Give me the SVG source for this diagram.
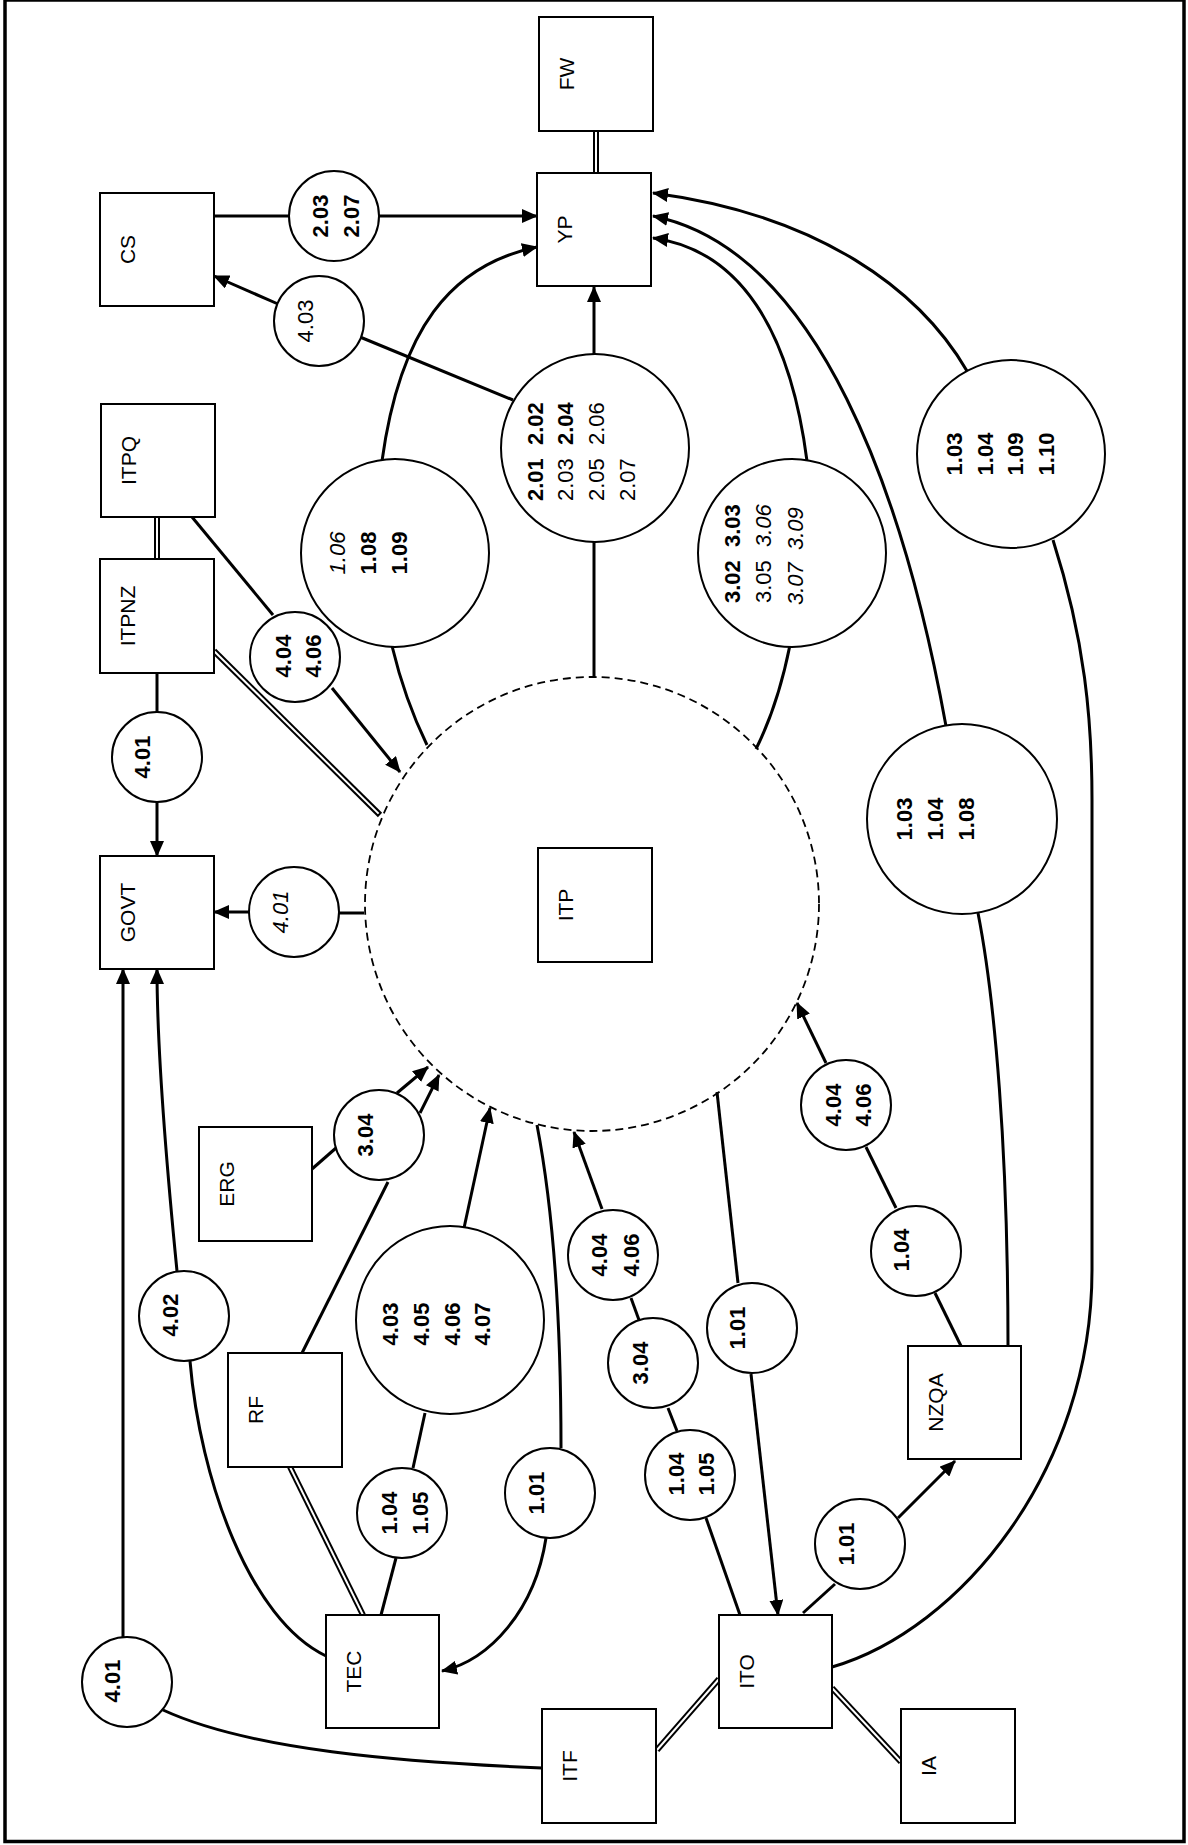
<svg xmlns="http://www.w3.org/2000/svg" width="1188" height="1845" viewBox="0 0 1188 1845">
<style>
.bx{fill:#fff;stroke:#000;stroke-width:2}
.cn{fill:#fff;stroke:#000;stroke-width:2}
.ln{fill:none;stroke:#000;stroke-width:3}
.ar{fill:none;stroke:#000;stroke-width:3;marker-end:url(#ah)}
.dbo{fill:none;stroke:#000;stroke-width:6}
.dbi{fill:none;stroke:#fff;stroke-width:2}
.dash{fill:none;stroke:#000;stroke-width:1.8;stroke-dasharray:8 5}
.t{font-family:"Liberation Sans",Arial,sans-serif;font-size:22px;fill:#000}
.lb{font-family:"Liberation Sans",Arial,sans-serif;font-size:21px;fill:#000;text-anchor:middle}
.b{font-weight:bold}
.i{font-style:italic}
.m{text-anchor:middle}
</style>
<defs>
<marker id="ah" markerUnits="userSpaceOnUse" markerWidth="16" markerHeight="14" refX="15" refY="7" orient="auto" viewBox="0 0 16 14"><path d="M0,0 L16,7 L0,14 Z" fill="#000"/></marker>
</defs>
<rect x="5" y="0" width="1179" height="1841.5" fill="#fff" stroke="#000" stroke-width="3.5"/>

<g id="connectors">
<path class="dbo" d="M596,131 L596,173"/><path class="dbi" d="M596,131 L596,173"/>
<path class="dbo" d="M157,517 L157,559"/><path class="dbi" d="M157,517 L157,559"/>
<path class="dbo" d="M214,651 L380,815"/><path class="dbi" d="M214,651 L378.6,813.6"/>
<path class="dbo" d="M290,1467 L363,1615"/><path class="dbi" d="M290,1467 L363,1615"/>
<path class="dbo" d="M657,1750 L719,1679"/><path class="dbi" d="M657,1750 L719,1679"/>
<path class="dbo" d="M832,1688 L901,1762"/><path class="dbi" d="M832,1688 L901,1762"/>

<path class="ln" d="M214,216 L290,216"/>
<path class="ar" d="M378,216 L537,216"/>
<path class="ln" d="M513,400 L360,337"/>
<path class="ar" d="M278,304 L214,276"/>
<path class="ar" d="M594,355 L594,287"/>
<path class="ln" d="M594,541 L594,677"/>
<path class="ar" d="M382,461 C400,330 450,265 537,247"/>
<path class="ln" d="M392,646 Q405,700 427,745"/>
<path class="ar" d="M807,461 C790,330 740,250 653,238"/>
<path class="ln" d="M790,645 Q778,705 756,749"/>
<path class="ar" d="M946,726 C905,500 820,250 653,216"/>
<path class="ar" d="M967,371 C920,290 820,215 653,193"/>
<path class="ln" d="M1053,540 C1085,640 1092,720 1092,800 L1092,1270 C1092,1470 960,1630 832,1667"/>
<path class="ln" d="M1008,1346 C1008,1150 995,1000 978,913"/>

<path class="ln" d="M192,517 L273,615"/>
<path class="ar" d="M332,688 L400,772"/>
<path class="ln" d="M157,673 L157,712"/>
<path class="ar" d="M157,802 L157,856"/>
<path class="ln" d="M339,913 L364,913"/>
<path class="ar" d="M249,912 L214,912"/>
<path class="ar" d="M123,1637 L123,969"/>
<path class="ar" d="M177,1271 C165,1150 157,1050 157,969"/>
<path class="ln" d="M190,1361 C200,1480 250,1620 326,1656"/>
<path class="ln" d="M542,1768 C400,1762 250,1750 163,1710"/>

<path class="ln" d="M312,1169 L336,1148"/>
<path class="ln" d="M302,1353 L388,1182"/>
<path class="ar" d="M397,1093 L428,1067"/>
<path class="ar" d="M420,1113 L439,1075"/>
<path class="ar" d="M464,1228 L490,1108"/>
<path class="ln" d="M425,1413 L413,1468"/>
<path class="ln" d="M396,1558 L381,1615"/>
<path class="ln" d="M537,1125 Q561,1250 561,1448"/>
<path class="ar" d="M546,1538 C535,1610 490,1660 442,1671"/>

<path class="ar" d="M602,1209 L574,1132"/>
<path class="ln" d="M631,1298 L639,1320"/>
<path class="ln" d="M668,1408 L677,1431"/>
<path class="ln" d="M706,1518 L740,1615"/>
<path class="ln" d="M717,1092 L738,1283"/>
<path class="ar" d="M751,1374 L778,1615"/>
<path class="ln" d="M803,1613 L835,1584"/>
<path class="ar" d="M898,1518 L955,1461"/>
<path class="ln" d="M961,1346 L935,1293"/>
<path class="ln" d="M896,1208 L866,1147"/>
<path class="ar" d="M826,1063 L797,1003"/>
</g>

<g id="ITP-boundary"><circle class="dash" cx="592" cy="904" r="227"/></g>

<g id="FW"><rect class="bx" x="539" y="17" width="114" height="114"/><text class="lb" transform="translate(574,74) rotate(-90)">FW</text></g>
<g id="YP"><rect class="bx" x="537" y="173" width="114" height="113"/><text class="lb" transform="translate(572,229.5) rotate(-90)">YP</text></g>
<g id="CS"><rect class="bx" x="100" y="193" width="114" height="113"/><text class="lb" transform="translate(135,249.5) rotate(-90)">CS</text></g>
<g id="ITPQ"><rect class="bx" x="101" y="404" width="114" height="113"/><text class="lb" transform="translate(136,460.5) rotate(-90)">ITPQ</text></g>
<g id="ITPNZ"><rect class="bx" x="100" y="559" width="114" height="114"/><text class="lb" transform="translate(135,616) rotate(-90)">ITPNZ</text></g>
<g id="GOVT"><rect class="bx" x="100" y="856" width="114" height="113"/><text class="lb" transform="translate(135,912.5) rotate(-90)">GOVT</text></g>
<g id="ITP"><rect class="bx" x="538" y="848" width="114" height="114"/><text class="lb" transform="translate(573,905) rotate(-90)">ITP</text></g>
<g id="ERG"><rect class="bx" x="199" y="1127" width="113" height="114"/><text class="lb" transform="translate(234,1184) rotate(-90)">ERG</text></g>
<g id="RF"><rect class="bx" x="228" y="1353" width="114" height="114"/><text class="lb" transform="translate(263,1410) rotate(-90)">RF</text></g>
<g id="TEC"><rect class="bx" x="326" y="1615" width="113" height="113"/><text class="lb" transform="translate(361,1671.5) rotate(-90)">TEC</text></g>
<g id="ITO"><rect class="bx" x="719" y="1615" width="113" height="113"/><text class="lb" transform="translate(754,1671.5) rotate(-90)">ITO</text></g>
<g id="ITF"><rect class="bx" x="542" y="1709" width="114" height="114"/><text class="lb" transform="translate(577,1766) rotate(-90)">ITF</text></g>
<g id="IA"><rect class="bx" x="901" y="1709" width="114" height="114"/><text class="lb" transform="translate(936,1766) rotate(-90)">IA</text></g>
<g id="NZQA"><rect class="bx" x="908" y="1346" width="113" height="113"/><text class="lb" transform="translate(943,1402.5) rotate(-90)">NZQA</text></g>

<g id="c-203-207"><circle class="cn" cx="334" cy="216" r="45"/><text class="t b m" transform="translate(328,216) rotate(-90)">2.03</text><text class="t b m" transform="translate(359,216) rotate(-90)">2.07</text></g>
<g id="c-403a"><circle class="cn" cx="319" cy="321" r="45"/><text class="t m" transform="translate(313,321) rotate(-90)">4.03</text></g>
<g id="c-2xx"><circle class="cn" cx="595" cy="448" r="94"/>
<text class="t b" transform="translate(543,501) rotate(-90)">2.01</text><text class="t b" transform="translate(543,445) rotate(-90)">2.02</text>
<text class="t" transform="translate(573,501) rotate(-90)">2.03</text><text class="t b" transform="translate(573,445) rotate(-90)">2.04</text>
<text class="t" transform="translate(604,501) rotate(-90)">2.05</text><text class="t" transform="translate(604,445) rotate(-90)">2.06</text>
<text class="t" transform="translate(635,501) rotate(-90)">2.07</text></g>
<g id="c-106"><circle class="cn" cx="395" cy="553" r="94"/><text class="t i m" transform="translate(345,553) rotate(-90)">1.06</text><text class="t b m" transform="translate(376,553) rotate(-90)">1.08</text><text class="t b m" transform="translate(407,553) rotate(-90)">1.09</text></g>
<g id="c-3xx"><circle class="cn" cx="792" cy="553" r="94"/>
<text class="t b" transform="translate(740,603) rotate(-90)">3.02</text><text class="t b" transform="translate(740,547) rotate(-90)">3.03</text>
<text class="t" transform="translate(771,603) rotate(-90)">3.05</text><text class="t i" transform="translate(771,547) rotate(-90)">3.06</text>
<text class="t i" transform="translate(803,605) rotate(-90)">3.07</text><text class="t i" transform="translate(803,550) rotate(-90)">3.09</text></g>
<g id="c-110"><circle class="cn" cx="1011" cy="454" r="94"/><text class="t b m" transform="translate(962,454) rotate(-90)">1.03</text><text class="t b m" transform="translate(993,454) rotate(-90)">1.04</text><text class="t b m" transform="translate(1023,454) rotate(-90)">1.09</text><text class="t b m" transform="translate(1054,454) rotate(-90)">1.10</text></g>
<g id="c-108"><circle class="cn" cx="962" cy="819" r="95"/><text class="t b m" transform="translate(912,819) rotate(-90)">1.03</text><text class="t b m" transform="translate(943,819) rotate(-90)">1.04</text><text class="t b m" transform="translate(974,819) rotate(-90)">1.08</text></g>
<g id="c-404a"><circle class="cn" cx="295" cy="657" r="45"/><text class="t b m" transform="translate(291,656) rotate(-90)">4.04</text><text class="t b m" transform="translate(321,656) rotate(-90)">4.06</text></g>
<g id="c-401a"><circle class="cn" cx="157" cy="757" r="45"/><text class="t b m" transform="translate(150,757) rotate(-90)">4.01</text></g>
<g id="c-401b"><circle class="cn" cx="294" cy="912" r="45"/><text class="t i m" transform="translate(288,912) rotate(-90)">4.01</text></g>
<g id="c-304a"><circle class="cn" cx="379" cy="1135" r="45"/><text class="t b m" transform="translate(373,1135) rotate(-90)">3.04</text></g>
<g id="c-402"><circle class="cn" cx="184" cy="1316" r="45"/><text class="t b m" transform="translate(178,1315) rotate(-90)">4.02</text></g>
<g id="c-4xx"><circle class="cn" cx="450" cy="1320" r="94"/><text class="t b m" transform="translate(398,1324) rotate(-90)">4.03</text><text class="t b m" transform="translate(429,1324) rotate(-90)">4.05</text><text class="t b m" transform="translate(460,1324) rotate(-90)">4.06</text><text class="t b m" transform="translate(490,1324) rotate(-90)">4.07</text></g>
<g id="c-404b"><circle class="cn" cx="613" cy="1255" r="45"/><text class="t b m" transform="translate(607,1255) rotate(-90)">4.04</text><text class="t b m" transform="translate(639,1255) rotate(-90)">4.06</text></g>
<g id="c-304b"><circle class="cn" cx="653" cy="1363" r="45"/><text class="t b m" transform="translate(648,1363) rotate(-90)">3.04</text></g>
<g id="c-101a"><circle class="cn" cx="752" cy="1328" r="45"/><text class="t b m" transform="translate(745,1328) rotate(-90)">1.01</text></g>
<g id="c-104a"><circle class="cn" cx="402" cy="1513" r="45"/><text class="t b m" transform="translate(397,1513) rotate(-90)">1.04</text><text class="t b m" transform="translate(428,1513) rotate(-90)">1.05</text></g>
<g id="c-101b"><circle class="cn" cx="550" cy="1493" r="45"/><text class="t b m" transform="translate(544,1493) rotate(-90)">1.01</text></g>
<g id="c-104b"><circle class="cn" cx="690" cy="1475" r="45"/><text class="t b m" transform="translate(684,1474) rotate(-90)">1.04</text><text class="t b m" transform="translate(714,1474) rotate(-90)">1.05</text></g>
<g id="c-101c"><circle class="cn" cx="860" cy="1544" r="45"/><text class="t b m" transform="translate(854,1544) rotate(-90)">1.01</text></g>
<g id="c-401c"><circle class="cn" cx="127" cy="1682" r="45"/><text class="t b m" transform="translate(120,1681) rotate(-90)">4.01</text></g>
<g id="c-404c"><circle class="cn" cx="846" cy="1105" r="45"/><text class="t b m" transform="translate(841,1105) rotate(-90)">4.04</text><text class="t b m" transform="translate(871,1105) rotate(-90)">4.06</text></g>
<g id="c-104c"><circle class="cn" cx="916" cy="1251" r="45"/><text class="t b m" transform="translate(909,1250) rotate(-90)">1.04</text></g>
</svg>
